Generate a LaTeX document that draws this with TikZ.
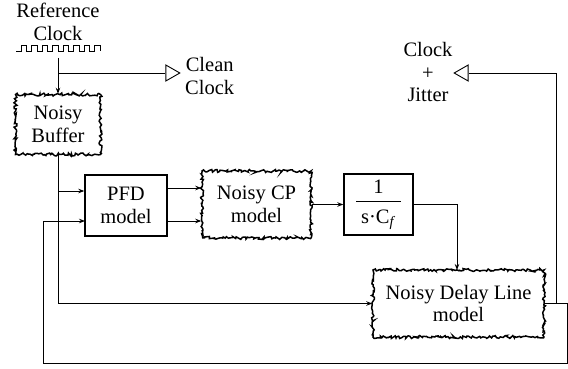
\documentclass[tikz,border=0pt]{standalone}
\usepackage{fontspec}
\setmainfont{Liberation Serif}
\usetikzlibrary{arrows.meta,decorations.pathmorphing,shapes.geometric}
\begin{document}
\begin{tikzpicture}[x=1pt,y=-1pt,
  lbl/.style={font=\fontsize{20.5}{22.5}\selectfont, align=center, inner sep=0pt},
  plainbox/.style={lbl, draw, line width=1.4pt},
  noisybox/.style={lbl, draw, line width=1.5pt, decorate,
     decoration={random steps, segment length=1.6pt, amplitude=1.5pt}},
  wire/.style={line width=0.9pt},
  arr/.style={wire, -{Stealth[length=6pt,width=4.5pt]}},
  termtri/.style={draw, line width=0.9pt, fill=white, isosceles triangle,
     isosceles triangle stretches, minimum height=14pt, minimum width=16pt, inner sep=0pt}
]
\pgfmathsetseed{7}
\useasboundingbox (0,0) rectangle (568,369);

% reference clock
\node[lbl] (refclk) at (58,22) {Reference\\Clock};
\draw[line width=0.8pt] (16,51) \foreach \k in {1,...,8}{ -- ++(5,0) -- ++(0,-6) -- ++(5.5,0) -- ++(0,6) };
\coordinate (clkout) at (58,58);
\coordinate (jc) at (58,73);

% blocks
\node[noisybox, minimum width=85pt, minimum height=60pt] (buf) at (58,124.5) {Noisy\\Buffer};
\node[plainbox, minimum width=82pt, minimum height=61pt] (pfd) at (126,205.5) {PFD\\model};
\node[noisybox, minimum width=109pt, minimum height=67pt] (cp) at (256.5,204.5) {Noisy CP\\model};
\node[plainbox, minimum width=69pt, minimum height=61pt] (filt) at (378.5,204.5)
   {1\\[-14pt]\rule{45pt}{0.8pt}\\[-1pt]s·C\textsubscript{\textit{f}}};
\node[noisybox, minimum width=171pt, minimum height=67pt] (dl) at (458.5,303.5) {Noisy Delay Line\\model};

% terminals
\node[termtri, shape border rotate=0, anchor=apex] (cleanT) at (181,73) {};
\node[lbl, anchor=west] (cleanL) at (185,76) {Clean\\Clock};
\node[termtri, shape border rotate=180, anchor=apex] (jitT) at (453,73) {};
\node[lbl] (jitL) at (428,72) {Clock\\+\\Jitter};

% connectors
\draw[arr] (clkout) -- (buf.north);
\draw[wire] (jc) -- (cleanT.lower side);
\draw[arr] (buf.south) |- (dl.west);
\coordinate (jb) at (58,191);
\draw[arr] (jb) -- (jb -| pfd.west);
\coordinate (po1) at (167,188);
\coordinate (po2) at (167,221);
\draw[arr] (po1) -- (po1 -| cp.west);
\draw[arr] (po2) -- (po2 -| cp.west);
\draw[arr] (cp.east) -- (filt.west);
\coordinate (dlin) at (457,270);
\draw[arr] (filt.east) -| (dlin);
\coordinate (fbR) at (567,303.5);
\coordinate (fbB) at (567,363);
\coordinate (fbL) at (43,363);
\coordinate (pin2) at (85,221);
\draw[arr] (dl.east) -- (fbR) -- (fbB) -- (fbL) |- (pin2);
\coordinate (jj) at (556,303.5);
\draw[wire] (jj) |- (jitT.lower side);
\end{tikzpicture}
\end{document}
